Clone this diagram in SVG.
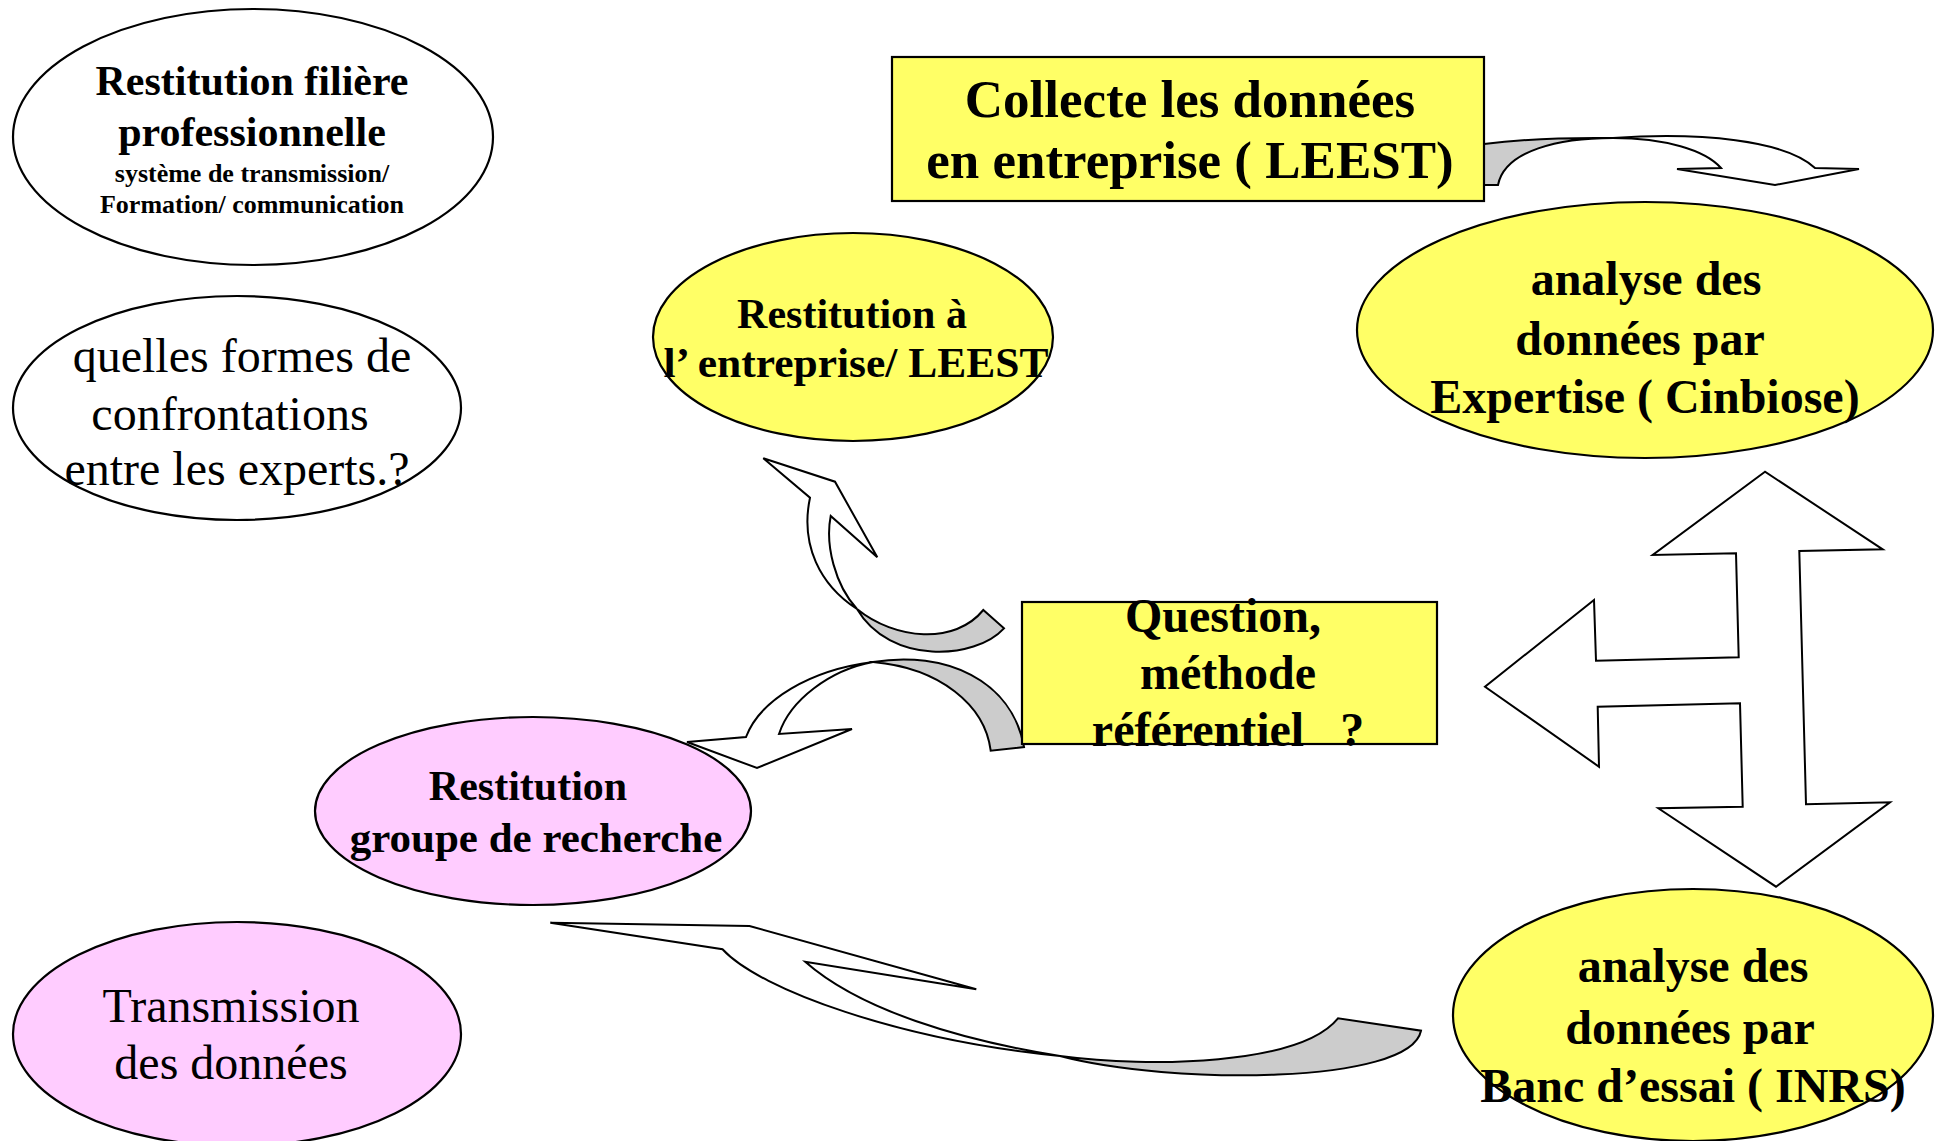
<svg xmlns="http://www.w3.org/2000/svg" width="1939" height="1141" viewBox="0 0 1939 1141">
<style>
.n{stroke:#000;stroke-width:2.2}
.w{fill:#fff}
.y{fill:#FFFF66}
.p{fill:#FFCCFF}
.a{fill:#fff;stroke:#000;stroke-width:2;stroke-linejoin:miter}
.g{fill:#CCCCCC;stroke:#000;stroke-width:2}
text{font-family:"Liberation Serif","Times New Roman",serif;fill:#000;text-anchor:middle}
.b{font-weight:bold}
</style>
<rect width="1939" height="1141" fill="#fff"/>
<g id="connectors">
  <g id="arrow-collecte-cinbiose">
    <path class="g" d="M1484,144 Q1540,137 1613,138 C1560,138 1505,150 1498,185 L1484,185 Z"/>
    <path class="a" d="M1613,138 C1700,132 1785,140 1815,168 L1859,169 L1775,185 L1677,169 L1721,168 C1705,150 1665,138 1613,138 Z"/>
  </g>
  <g id="arrow-question-restitution-entreprise">
    <path class="a" d="M763.3,458.3 L835,481.7 L877.3,557.3 L830.7,516 C825,545 835,585 857,609 C820,585 800,545 810,497.7 Z"/>
    <path class="g" d="M857,609 C895,640 955,645 983.3,610 L1004,628.3 C975,660 890,665 857,609 Z"/>
  </g>
  <g id="arrow-question-restitution-groupe">
    <path class="a" d="M687,742 L757,768 L852,729 L779,734 C790,700 830,670 873,662 C810,670 760,700 746,737 Z"/>
    <path class="g" d="M873,662 C945,650 1012,680 1024,747 L990.7,750.7 C985,705 940,668 873,662 Z"/>
  </g>
  <g id="arrow-inrs-restitution-groupe">
    <path class="a" d="M550.3,922.7 L749.5,926 L976.3,989.3 L805.2,961.7 C860,1010 960,1040 1060,1056 C900,1040 760,990 722.5,949.3 Z"/>
    <path class="g" d="M1060,1056 C1150,1068 1300,1065 1338,1018.3 L1421,1030.7 C1410,1085 1170,1085 1060,1056 Z"/>
  </g>
  <polygon id="arrow-three-way" class="a" points="1765,471.7 1652.7,555 1736,553.3 1738.7,657.3 1596,660.7 1594,600 1485,686.7 1599,766.7 1597.7,706.7 1740,703.3 1742.7,806.7 1658.3,808.3 1776,886.7 1890,802.3 1806,804.3 1799.3,551 1882.7,549.3"/>
</g>
<g id="restitution-filiere">
  <ellipse class="n w" cx="253" cy="137" rx="240" ry="128"/>
  <text class="b" x="252" y="95" font-size="42">Restitution filière</text>
  <text class="b" x="252" y="146" font-size="42">professionnelle</text>
  <text class="b" x="252" y="182" font-size="26">système de transmission/</text>
  <text class="b" x="252" y="213" font-size="26">Formation/ communication</text>
</g>
<g id="confrontations">
  <ellipse class="n w" cx="237" cy="408" rx="224" ry="112"/>
  <text x="242" y="372" font-size="48">quelles formes de</text>
  <text x="230" y="430" font-size="48">confrontations</text>
  <text x="237" y="485" font-size="48">entre les experts.?</text>
</g>
<g id="restitution-entreprise">
  <ellipse class="n y" cx="853" cy="337" rx="200" ry="104"/>
  <text class="b" x="852" y="328" font-size="42">Restitution à</text>
  <text class="b" x="856" y="377" font-size="42" textLength="385" lengthAdjust="spacingAndGlyphs">l’ entreprise/ LEEST</text>
</g>
<g id="collecte">
  <rect class="n y" x="892" y="57" width="592" height="144" stroke-width="2.5"/>
  <text class="b" x="1190" y="117" font-size="53">Collecte les données</text>
  <text class="b" x="1190" y="178" font-size="53">en entreprise ( LEEST)</text>
</g>
<g id="cinbiose">
  <ellipse class="n y" cx="1645" cy="330" rx="288" ry="128"/>
  <text class="b" x="1646" y="295" font-size="48">analyse des</text>
  <text class="b" x="1640" y="355" font-size="48">données par</text>
  <text class="b" x="1645" y="413" font-size="48">Expertise ( Cinbiose)</text>
</g>
<g id="question">
  <rect class="n y" x="1022" y="602" width="415" height="142"/>
  <text class="b" x="1223" y="632" font-size="48">Question,</text>
  <text class="b" x="1228" y="689" font-size="48">méthode</text>
  <text class="b" x="1228" y="746" font-size="48" xml:space="preserve">référentiel   ?</text>
</g>
<g id="restitution-groupe">
  <ellipse class="n p" cx="533" cy="811" rx="218" ry="94"/>
  <text class="b" x="528" y="800" font-size="42">Restitution</text>
  <text class="b" x="536" y="852" font-size="43">groupe de recherche</text>
</g>
<g id="transmission">
  <ellipse class="n p" cx="237" cy="1034" rx="224" ry="112"/>
  <text x="231" y="1022" font-size="48">Transmission</text>
  <text x="231" y="1079" font-size="48">des données</text>
</g>
<g id="inrs">
  <ellipse class="n y" cx="1693" cy="1015" rx="240" ry="126"/>
  <text class="b" x="1693" y="982" font-size="48">analyse des</text>
  <text class="b" x="1690" y="1044" font-size="48">données par</text>
  <text class="b" x="1693" y="1102" font-size="48">Banc d’essai ( INRS)</text>
</g>
</svg>
